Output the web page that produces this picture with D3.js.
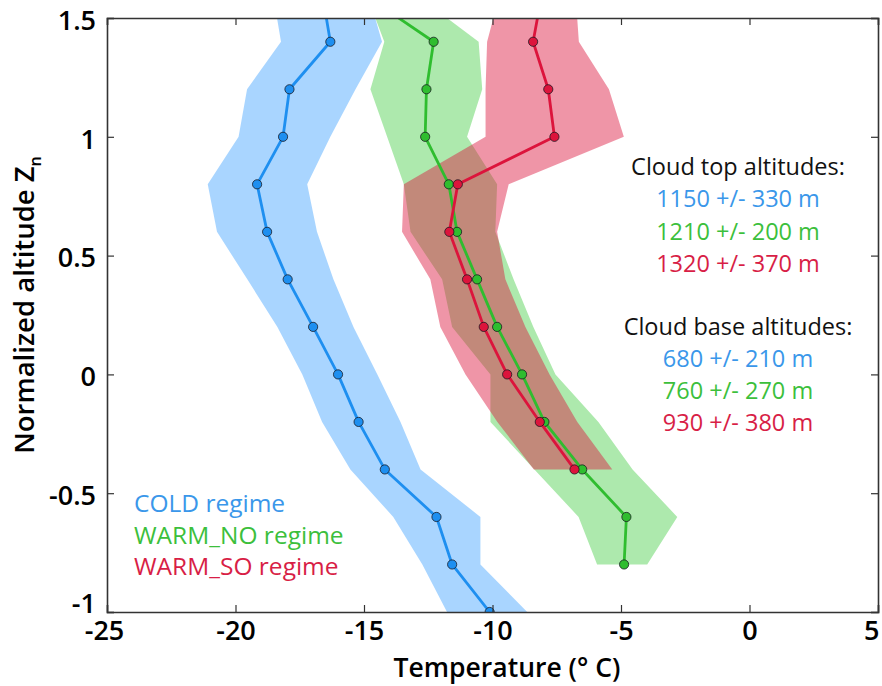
<!DOCTYPE html>
<html><head><meta charset="utf-8">
<script src="https://cdn.jsdelivr.net/npm/d3@7"></script>
<style>
body{margin:0;background:#fff;}
svg{display:block;font-family:"Open Sans",sans-serif;}
</style>
</head><body>
<svg id="c" width="882" height="686"></svg>
<script>
// ---- data ----
const altitudes = [1.6, 1.4, 1.2, 1.0, 0.8, 0.6, 0.4, 0.2, 0, -0.2, -0.4, -0.6, -0.8, -1.0];

const coldMean = [-16.62, -16.31, -17.90, -18.15, -19.16, -18.77, -17.97, -16.98, -16.01, -15.21, -14.19, -12.18, -11.57, -10.11];
const coldLow  = [-18.54, -18.23, -19.55, -19.88, -21.08, -20.72, -19.54, -18.37, -17.40, -16.63, -15.53, -13.86, -12.73, -11.77];
const coldHigh = [-14.83, -14.30, -15.33, -16.31, -17.21, -16.83, -16.19, -15.41, -14.48, -13.58, -12.80, -10.47, -10.47, -8.65];

const warmNoMean = [-15.01, -12.29, -12.57, -12.62, -11.70, -11.38, -10.60, -9.82, -8.85, -7.98, -6.51, -4.79, -4.88];
const warmNoLow  = [-14.91, -14.21, -14.75, -14.10, -13.45, -13.19, -11.96, -11.57, -10.08, -10.08, -8.37, -6.65, -5.93];
const warmNoHigh = [-13.00, -10.54, -10.40, -10.99, -9.82, -9.89, -9.18, -8.41, -7.55, -5.88, -4.55, -2.81, -3.98];

const warmSoMean = [-8.08, -8.42, -7.83, -7.59, -11.35, -11.68, -10.99, -10.34, -9.43, -8.16, -6.81];
const warmSoLow  = [-9.72, -10.21, -10.27, -10.27, -13.45, -13.52, -12.42, -12.03, -11.05, -9.81, -8.39];
const warmSoHigh = [-6.77, -6.64, -5.47, -4.89, -9.37, -9.82, -9.50, -8.72, -7.78, -6.70, -5.34];

const xTicks = [-25, -20, -15, -10, -5, 0, 5];
const xTickLabels = ["-25", "-20", "-15", "-10", "-5", "0", "5"];
const yTicks = [-1, -0.5, 0, 0.5, 1, 1.5];
const yTickLabels = ["-1", "-0.5", "0", "0.5", "1", "1.5"];

const regimeNames = ["COLD regime", "WARM_NO regime", "WARM_SO regime"];
const topLines = ["1150 +/- 330 m", "1210 +/- 200 m", "1320 +/- 370 m"];
const baseLines = ["680 +/- 210 m", "760 +/- 270 m", "930 +/- 380 m"];

// ---- layout ----
const L = 107, R = 878, T = 18, B = 612;
const svg = d3.select("#c");
const x = d3.scaleLinear().domain([-25, 5]).range([L, R]);
const y = d3.scaleLinear().domain([-1, 1.5]).range([B, T]);

const colors = {
  cold: {line: "#1e8ff0", fill: "rgb(30,144,255)", fo: 0.38, text: "#3a97ea"},
  no:   {line: "#2fbd2f", fill: "rgb(50,200,50)", fo: 0.4, text: "#3cbf3c"},
  so:   {line: "#dc143c", fill: "rgb(220,20,60)", fo: 0.45, text: "#d81e46"}
};

svg.append("defs").append("clipPath").attr("id", "clip")
  .append("rect").attr("x", L).attr("y", T).attr("width", R - L).attr("height", B - T);

const g = svg.append("g").attr("clip-path", "url(#clip)");

function build(mean, low, high) {
  return mean.map((m, i) => ({alt: altitudes[i], m, lo: low[i], hi: high[i]}));
}
const series = [
  {key: "cold", d: build(coldMean, coldLow, coldHigh)},
  {key: "no", d: build(warmNoMean, warmNoLow, warmNoHigh)},
  {key: "so", d: build(warmSoMean, warmSoLow, warmSoHigh)}
];

const area = d3.area().y(d => y(d.alt)).x0(d => x(d.lo)).x1(d => x(d.hi));
const line = d3.line().x(d => x(d.m)).y(d => y(d.alt));

series.forEach(s => {
  g.append("path").datum(s.d).attr("d", area)
    .attr("fill", colors[s.key].fill).attr("fill-opacity", colors[s.key].fo).attr("stroke", "none");
});
series.forEach(s => {
  g.append("path").datum(s.d).attr("d", line)
    .attr("fill", "none").attr("stroke", colors[s.key].line).attr("stroke-width", 2.8)
    .attr("stroke-linejoin", "round");
  g.selectAll(null).data(s.d.filter(d => d.alt <= 1.5)).enter().append("circle")
    .attr("cx", d => x(d.m)).attr("cy", d => y(d.alt)).attr("r", 4.6)
    .attr("fill", colors[s.key].line).attr("stroke", "rgba(20,20,30,0.75)").attr("stroke-width", 1);
});

// ---- axes / frame ----
const axisColor = "#333";
const tl = 7;
const ax = svg.append("g");
const xb = ax.append("g").attr("transform", `translate(0,${B})`)
  .call(d3.axisBottom(x).tickValues(xTicks).tickSize(-tl).tickPadding(9).tickFormat((d, i) => xTickLabels[i]));
ax.append("g").attr("transform", `translate(0,${T})`)
  .call(d3.axisTop(x).tickValues(xTicks).tickSize(-tl).tickFormat(""));
const yb = ax.append("g").attr("transform", `translate(${L},0)`)
  .call(d3.axisLeft(y).tickValues(yTicks).tickSize(-tl).tickPadding(11).tickFormat((d, i) => yTickLabels[i]));
ax.append("g").attr("transform", `translate(${R},0)`)
  .call(d3.axisRight(y).tickValues(yTicks).tickSize(-tl).tickFormat(""));
ax.selectAll(".domain").attr("stroke", axisColor).attr("stroke-width", 1.6);
ax.selectAll(".tick line").attr("stroke", axisColor).attr("stroke-width", 1.2);
ax.selectAll(".tick text").attr("fill", "#000").style("font-size", "27px").style("font-weight", 600)
  .style("font-family", '"Open Sans",sans-serif');
// label placement tweaks as in the reference
xb.selectAll(".tick text").filter(d => d === 5).attr("text-anchor", "end").attr("dx", 1);
xb.selectAll(".tick text").filter(d => d === -25).attr("dx", -3);
yb.selectAll(".tick text").attr("dy", "0.42em");
yb.selectAll(".tick text").filter(d => d === -1).attr("dy", "0.02em");

// ---- axis titles ----
svg.append("text").attr("x", 507).attr("y", 677).attr("text-anchor", "middle")
  .style("font-size", "26.5px").style("font-weight", 600).text("Temperature (° C)");

const yl = svg.append("text").attr("transform", "translate(34,305) rotate(-90)")
  .attr("text-anchor", "middle").style("font-size", "27.5px").style("font-weight", 600);
yl.append("tspan").text("Normalized altitude Z");
yl.append("tspan").attr("dy", 7).style("font-size", "16px").text("n");

// ---- annotations ----
const cx = 738;
const ann = svg.append("g").attr("text-anchor", "middle").style("font-size", "23.5px").style("font-weight", 500);
ann.append("text").attr("x", cx).attr("y", 175).attr("fill", "#111").text("Cloud top altitudes:");
const keys = ["cold", "no", "so"];
topLines.forEach((t, i) => ann.append("text").attr("x", cx).attr("y", 207 + i * 32.5).attr("fill", colors[keys[i]].text).text(t));
ann.append("text").attr("x", cx).attr("y", 335).attr("fill", "#111").text("Cloud base altitudes:");
baseLines.forEach((t, i) => ann.append("text").attr("x", cx).attr("y", 367 + i * 32.2).attr("fill", colors[keys[i]].text).text(t));

const leg = svg.append("g").style("font-size", "24.5px").style("font-weight", 500);
regimeNames.forEach((t, i) => leg.append("text").attr("x", 134).attr("y", 512 + i * 31.7).attr("fill", colors[keys[i]].text).text(t));
</script>
</body></html>
